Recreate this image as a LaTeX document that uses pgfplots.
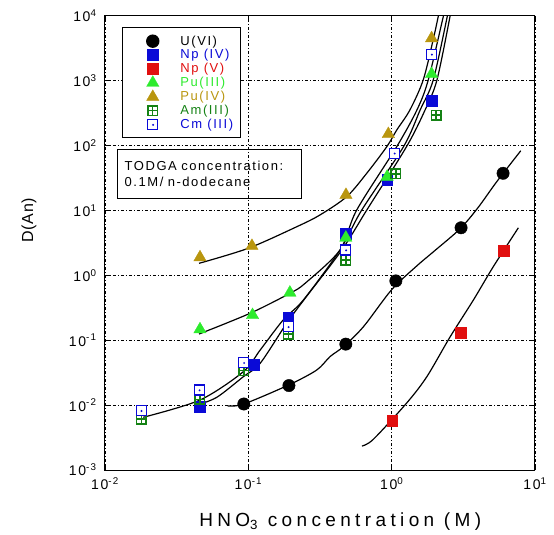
\documentclass[border=0pt]{standalone}
\usepackage{fontspec}
\setmainfont{Liberation Sans}[LetterSpace=12]
\newfontfamily\xlabfont{Liberation Sans}[LetterSpace=23]
\newfontfamily\ylabfont{Liberation Sans}[LetterSpace=4]
\usepackage{pgfplots}
\pgfplotsset{compat=1.18}

\definecolor{npblue}{RGB}{10,10,215}
\definecolor{npred}{RGB}{225,15,15}
\definecolor{puiii}{RGB}{45,235,45}
\definecolor{puiv}{RGB}{185,150,15}
\definecolor{amgreen}{RGB}{20,130,20}

\pgfdeclareplotmark{ambox}{%
  \pgfpathrectangle{\pgfpoint{-\pgfplotmarksize}{-\pgfplotmarksize}}{\pgfpoint{2\pgfplotmarksize}{2\pgfplotmarksize}}%
  \pgfpathmoveto{\pgfpoint{-\pgfplotmarksize}{0pt}}\pgfpathlineto{\pgfpoint{\pgfplotmarksize}{0pt}}%
  \pgfpathmoveto{\pgfpoint{0pt}{-\pgfplotmarksize}}\pgfpathlineto{\pgfpoint{0pt}{\pgfplotmarksize}}%
  \pgfusepathqstroke}
\pgfdeclareplotmark{cmbox}{%
  \pgfpathrectangle{\pgfpoint{-\pgfplotmarksize}{-\pgfplotmarksize}}{\pgfpoint{2\pgfplotmarksize}{2\pgfplotmarksize}}%
  \pgfusepathqfillstroke
  \pgfscope\pgfsetfillcolor{npblue}%
  \pgfpathcircle{\pgfpoint{0.3pt}{-0.3pt}}{1.1pt}\pgfusepathqfill
  \endpgfscope}

\pgfplotsset{
  mymarks/.style={only marks,
    legend image code/.code={\path[draw=none,fill=none] (0pt,-6.9pt) rectangle (58.3pt,6.9pt);
      \draw[##1, only marks] plot coordinates {(30.6pt,0pt)};}},
  curve/.style={black, line width=1.2pt, smooth, forget plot}
}

\begin{document}
\begin{tikzpicture}
\useasboundingbox (-105pt,-65pt) rectangle (449pt,470pt);
\begin{axis}[
  at={(0pt,0pt)}, anchor=south west,
  scale only axis, width=430pt, height=454.3pt,
  xmode=log, ymode=log,
  xmin=0.01, xmax=10, ymin=1e-3, ymax=1e4,
  xtick={0.01,0.1,1,10},
  xticklabels={10\textsuperscript{-2},10\textsuperscript{-1},10\textsuperscript{0},10\textsuperscript{1}},
  ytick={1e-3,1e-2,1e-1,1,10,100,1000,10000},
  yticklabels={10\textsuperscript{-3},10\textsuperscript{-2},10\textsuperscript{-1},10\textsuperscript{0},10\textsuperscript{1},10\textsuperscript{2},10\textsuperscript{3},10\textsuperscript{4}},
  xminorticks=false, yminorticks=false,
  grid=major,
  major grid style={black, line width=0.6pt, dash pattern=on 3pt off 2pt on 1pt off 2pt},
  axis line style={line width=1pt},
  tick align=inside, major tick length=5pt,
  tick style={black, line width=0.8pt},
  tick label style={font=\fontsize{14}{16}\selectfont},
  xticklabel style={yshift=-4pt},
  yticklabel style={xshift=-5pt},
  xlabel={\xlabfont HNO\textsubscript{3} concentration (M)},
  xlabel style={font=\fontsize{19}{22}\selectfont, at={(axis description cs:0.547,-0.1233)}, anchor=base},
  ylabel={\ylabfont D(An)},
  ylabel style={font=\fontsize{16}{18}\selectfont, at={(axis description cs:-0.1767,0.55)}, anchor=center},
  legend cell align=left,
  legend style={at={(rel axis cs:0.0388,0.9745)}, anchor=north west, draw=black, line width=1pt,
    inner xsep=0pt, inner ysep=6.5pt, row sep=0pt, column sep=0pt,
    nodes={inner sep=0pt}, font=\fontsize{13}{14}\selectfont},
]
% fitted curves
\addplot[curve] coordinates {(0.0453,1.53) (0.100,2.61) (0.218,5.61) (0.316,8.5) (0.486,16.3) (0.670,37.3) (0.925,96) (1.085,173) (1.34,352) (1.66,1021) (1.95,4300) (2.12,10000) (2.2,14000)};
\addplot[curve] coordinates {(0.0453,0.1245) (0.103,0.260) (0.195,0.528) (0.249,0.753) (0.436,2.45) (0.570,10.1) (1.085,96) (1.50,352) (1.80,1021) (2.30,10000) (2.4,14000)};
\addplot[curve] coordinates {(0.0185,0.00649) (0.0461,0.0120) (0.0923,0.0327) (0.121,0.0706) (0.175,0.205) (0.242,0.416) (0.436,2.45) (0.618,10.1) (1.21,96) (1.58,352) (1.95,1021) (2.45,10000) (2.52,14000)};
\addplot[curve] coordinates {(0.0437,0.0100) (0.0603,0.0132) (0.0923,0.0274) (0.121,0.0441) (0.185,0.182) (0.249,0.442) (0.449,2.45) (0.670,10.1) (1.27,96) (1.71,352) (2.07,1021) (2.56,10000) (2.62,14000)};
\addplot[curve] coordinates {(0.0718,0.0097) (0.093,0.0104) (0.192,0.0205) (0.300,0.0347) (0.371,0.0557) (0.460,0.0794) (0.635,0.161) (1.0,0.60) (1.5,1.4) (2.0,2.4) (3.0,5.2) (4.0,11) (5.41,27.7) (7.96,83)};
\addplot[curve] coordinates {(0.62,0.00234) (0.745,0.00297) (1.27,0.0107) (1.76,0.0274) (2.56,0.113) (3.72,0.417) (5.12,1.36) (7.66,5.4)};
% data
\addplot[mymarks, mark=*, mark size=6.2pt, black] coordinates {(0.093,0.0104) (0.192,0.020) (0.479,0.087) (1.07,0.82) (3.05,5.4) (5.99,37.3)};
\addlegendentry{\makebox[60pt][l]{\textcolor{black}{U(VI)}}}
\addplot[mymarks, mark=square*, mark size=5.4pt, draw=none, mark options={fill=npblue, draw=npblue, line width=0.5pt}] coordinates {(0.046,0.0095) (0.11,0.0415) (0.19,0.225) (0.479,4.4) (0.933,29.4) (1.90,485)};
\addlegendentry{\makebox[60pt][l]{\textcolor{npblue}{Np (IV)}}}
\addplot[mymarks, mark=square*, mark size=5.4pt, draw=none, mark options={fill=npred, draw=npred, line width=0.5pt}] coordinates {(1.01,0.0057) (3.05,0.132) (6.06,2.39)};
\addlegendentry{\makebox[60pt][l]{\textcolor{npred}{Np (V)}}}
\addplot[mymarks, mark=triangle*, mark size=7.2pt, draw=none, mark options={fill=puiii, draw=puiii, line width=0.3pt}] coordinates {(0.046,0.147) (0.107,0.244) (0.195,0.54) (0.479,3.8) (0.93,33) (1.90,1265)};
\addlegendentry{\makebox[60pt][l]{\textcolor{puiii}{Pu(III)}}}
\addplot[mymarks, mark=triangle*, mark size=7.2pt, draw=none, mark options={fill=puiv, draw=puiv, line width=0.3pt}] coordinates {(0.046,1.89) (0.106,2.83) (0.48,17.3) (0.948,150) (1.9,4490)};
\addlegendentry{\makebox[60pt][l]{\textcolor{puiv}{Pu(IV)}}}
\addplot[mymarks, mark=ambox, mark size=4.8pt, draw=none, mark options={draw=amgreen, line width=1.4pt}] coordinates {(0.0179,0.0061) (0.046,0.0123) (0.093,0.034) (0.19,0.124) (0.479,1.72) (1.07,36.4) (2.04,295)};
\addlegendentry{\makebox[60pt][l]{\textcolor{amgreen}{Am(III)}}}
\addplot[mymarks, mark=cmbox, mark size=5pt, draw=none, mark options={draw=npblue, fill=white, line width=1.3pt}] coordinates {(0.0179,0.0082) (0.0455,0.0171) (0.093,0.045) (0.19,0.161) (0.479,2.45) (1.045,75.9) (1.90,2540)};
\addlegendentry{\makebox[60pt][l]{\textcolor{npblue}{Cm (III)}}}
\node[draw=black, line width=0.8pt, anchor=north west, inner xsep=7pt, inner ysep=0pt,
  text width=169.4pt, minimum height=49.3pt, align=left,
  font=\fontsize{13}{16}\selectfont] at (rel axis cs:0.0286,0.7066)
  {TODGA concentration:\\0.1M/ n-dodecane};
\end{axis}
\end{tikzpicture}
\end{document}
